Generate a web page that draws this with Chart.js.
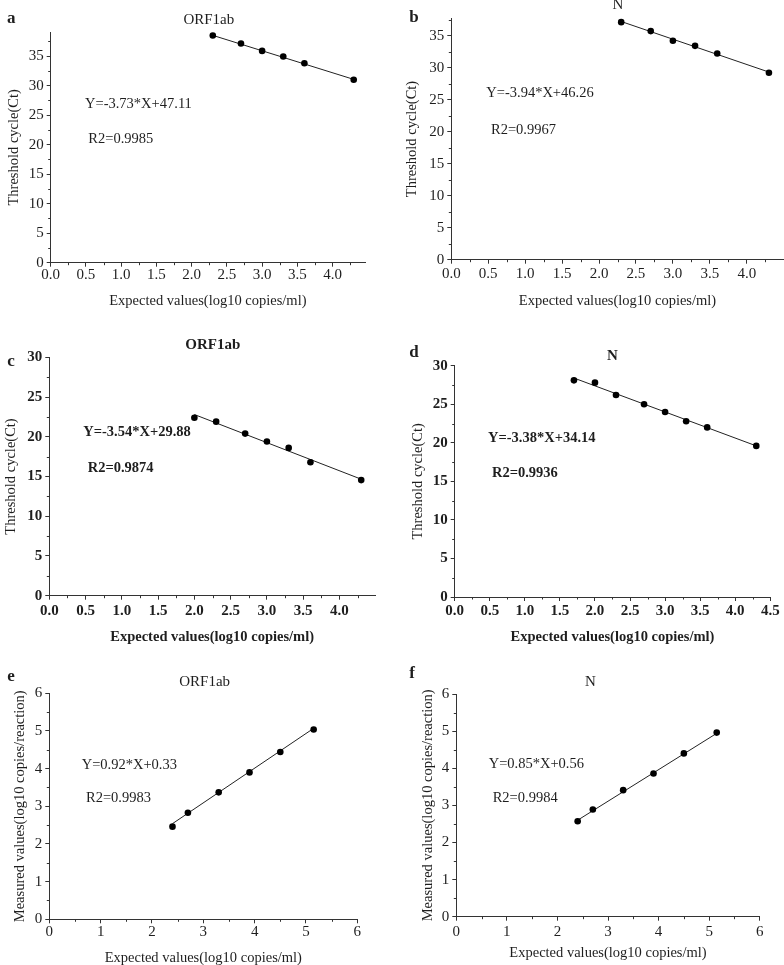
<!DOCTYPE html>
<html>
<head>
<meta charset="utf-8">
<script src="https://cdn.jsdelivr.net/npm/chart.js@4.4.0/dist/chart.umd.min.js"></script>
<style>
  html, body { margin: 0; padding: 0; background: #fff; overflow: hidden; }
  #wrap { position: relative; width: 784px; height: 965px; }
  canvas { position: absolute; }
</style>
</head>
<body>
<div id="wrap">
  <canvas id="panelA"></canvas>
  <canvas id="panelB"></canvas>
  <canvas id="panelC"></canvas>
  <canvas id="panelD"></canvas>
  <canvas id="panelE"></canvas>
  <canvas id="panelF"></canvas>
</div>
<script>
// tick labels
const xTickLabelsCt = ['0.0', '0.5', '1.0', '1.5', '2.0', '2.5', '3.0', '3.5', '4.0'];
const xTickLabelsCtWide = ['0.0', '0.5', '1.0', '1.5', '2.0', '2.5', '3.0', '3.5', '4.0', '4.5'];
const yTickLabelsCtHigh = ['0', '5', '10', '15', '20', '25', '30', '35'];
const yTickLabelsCtLow = ['0', '5', '10', '15', '20', '25', '30'];
const tickLabelsLog = ['0', '1', '2', '3', '4', '5', '6'];

// panel a - ORF1ab
const expectedA = [2.3, 2.7, 3.0, 3.3, 3.6, 4.3];
const ctA = [38.5, 37.15, 35.9, 34.95, 33.8, 31.0];
const fitA = [[2.3, 38.53], [4.3, 31.07]];

// panel b - N
const expectedB = [2.3, 2.7, 3.0, 3.3, 3.6, 4.3];
const ctB = [37.1, 35.7, 34.2, 33.4, 32.2, 29.2];
const fitB = [[2.3, 37.2], [4.3, 29.3]];

// panel c - ORF1ab
const expectedC = [2.0, 2.3, 2.7, 3.0, 3.3, 3.6, 4.3];
const ctC = [22.4, 21.9, 20.4, 19.4, 18.6, 16.8, 14.55];
const fitC = [[2.0, 22.8], [4.3, 14.66]];

// panel d - N
const expectedD = [1.7, 2.0, 2.3, 2.7, 3.0, 3.3, 3.6, 4.3];
const ctD = [28.1, 27.8, 26.2, 25.0, 24.0, 22.8, 22.0, 19.6];
const fitD = [[1.7, 28.4], [4.3, 19.6]];

// panel e - ORF1ab
const expectedE = [2.4, 2.7, 3.3, 3.9, 4.5, 5.15];
const measuredE = [2.46, 2.83, 3.37, 3.90, 4.44, 5.04];
const fitE = [[2.4, 2.54], [5.15, 5.07]];

// panel f - N
const expectedF = [2.4, 2.7, 3.3, 3.9, 4.5, 5.15];
const measuredF = [2.57, 2.89, 3.41, 3.86, 4.40, 4.96];
const fitF = [[2.4, 2.6], [5.15, 4.94]];

const FONT = "'Liberation Serif', 'Times New Roman', serif";
const TEXT_COLOR = '#1e1e1e';
const AXIS_COLOR = '#333333';
const TITLE_SIZE = 14.5;

const panels = [
  {
    id: 'panelA', box: [0, 0, 392, 315], plot: [50.7, 32, 365, 262.7],
    xMax: 4.46, yMax: 39.1, xLabels: xTickLabelsCt, yLabels: yTickLabelsCtHigh,
    xs: expectedA, ys: ctA, fit: fitA, bold: false, xTickPad: 1,
    yTitle: 'Threshold cycle(Ct)', yTitleX: 14, xTitleY: 301.5,
    letter: ['a', 7, 19], title: ['ORF1ab', 208.8, 20],
    eq: ['Y=-3.73*X+47.11', 85, 104.3], r2: ['R2=0.9985', 88.3, 139.3]
  },
  {
    id: 'panelB', box: [392, 0, 392, 315], plot: [451.3, 18.3, 783.7, 259.7],
    xMax: 4.5, yMax: 37.7, xLabels: xTickLabelsCt, yLabels: yTickLabelsCtHigh,
    xs: expectedB, ys: ctB, fit: fitB, bold: false, xTickPad: 3,
    yTitle: 'Threshold cycle(Ct)', yTitleX: 412, xTitleY: 301.5,
    letter: ['b', 409.3, 18], title: ['N', 617.8, 5],
    eq: ['Y=-3.94*X+46.26', 486.3, 93.3], r2: ['R2=0.9967', 491, 130]
  },
  {
    id: 'panelC', box: [0, 315, 392, 335], plot: [49.3, 357.3, 375, 595.7],
    xMax: 4.49, yMax: 30, xLabels: xTickLabelsCt, yLabels: yTickLabelsCtLow,
    xs: expectedC, ys: ctC, fit: fitC, bold: true, xTickPad: 3.5,
    yTitle: 'Threshold cycle(Ct)', yTitleX: 10.8, xTitleY: 637,
    letter: ['c', 7.3, 361.7], title: ['ORF1ab', 212.8, 345],
    eq: ['Y=-3.54*X+29.88', 83.3, 432.3], r2: ['R2=0.9874', 87.7, 468.3]
  },
  {
    id: 'panelD', box: [392, 315, 392, 335], plot: [454.7, 365.7, 770.3, 597],
    xMax: 4.5, yMax: 30, xLabels: xTickLabelsCtWide, yLabels: yTickLabelsCtLow,
    xs: expectedD, ys: ctD, fit: fitD, bold: true, xTickPad: 3,
    yTitle: 'Threshold cycle(Ct)', yTitleX: 417.8, xTitleY: 637,
    letter: ['d', 409.3, 352.3], title: ['N', 612.5, 356],
    eq: ['Y=-3.38*X+34.14', 488, 438.3], r2: ['R2=0.9936', 492, 473.3]
  },
  {
    id: 'panelE', box: [0, 650, 392, 325], plot: [49.3, 693.3, 357.3, 919.3],
    xMax: 6, yMax: 6, xLabels: tickLabelsLog, yLabels: tickLabelsLog,
    xs: expectedE, ys: measuredE, fit: fitE, bold: false, xTickPad: 1.5,
    yTitle: 'Measured values(log10 copies/reaction)', yTitleX: 20, xTitleY: 958.3,
    letter: ['e', 7.3, 676.7], title: ['ORF1ab', 204.7, 681.7],
    eq: ['Y=0.92*X+0.33', 81.7, 765], r2: ['R2=0.9983', 86, 798.3]
  },
  {
    id: 'panelF', box: [392, 650, 392, 325], plot: [456.3, 694, 759.7, 916.7],
    xMax: 6, yMax: 6, xLabels: tickLabelsLog, yLabels: tickLabelsLog,
    xs: expectedF, ys: measuredF, fit: fitF, bold: false, xTickPad: 3.5,
    yTitle: 'Measured values(log10 copies/reaction)', yTitleX: 427.8, xTitleY: 953.3,
    letter: ['f', 409.3, 673.3], title: ['N', 590.3, 681.7],
    eq: ['Y=0.85*X+0.56', 488.7, 764.3], r2: ['R2=0.9984', 492.7, 797.7]
  }
];

function font(size, bold) {
  return { family: FONT, size: size, weight: bold ? 'bold' : 'normal', lineHeight: 1 };
}

// short minor ticks halfway between the major ones, plus the panel texts
function makeDecor(p) {
  return {
    id: 'decor_' + p.id,
    afterDraw(chart) {
      const ctx = chart.ctx;
      const xs = chart.scales.x;
      const ys = chart.scales.y;
      const area = chart.chartArea;
      ctx.save();
      ctx.strokeStyle = AXIS_COLOR;
      ctx.lineWidth = 1;
      ctx.beginPath();
      const xv = p.xLabels.map(parseFloat);
      const xStep = xv[1] - xv[0];
      for (let v = xv[0] + xStep / 2; v < p.xMax; v += xStep) {
        const px = Math.round(xs.getPixelForValue(v)) + 0.5;
        ctx.moveTo(px, area.bottom);
        ctx.lineTo(px, area.bottom + 2.5);
      }
      const yv = p.yLabels.map(parseFloat);
      const yStep = yv[1] - yv[0];
      for (let v = yv[0] + yStep / 2; v < p.yMax; v += yStep) {
        const py = Math.round(ys.getPixelForValue(v)) + 0.5;
        ctx.moveTo(area.left, py);
        ctx.lineTo(area.left - 2.5, py);
      }
      ctx.stroke();

      const ox = p.box[0];
      const oy = p.box[1];
      ctx.fillStyle = TEXT_COLOR;
      ctx.textBaseline = 'middle';

      ctx.textAlign = 'left';
      ctx.font = 'bold 17px ' + FONT;
      ctx.fillText(p.letter[0], p.letter[1] - ox, p.letter[2] - oy);

      ctx.textAlign = 'center';
      ctx.font = (p.bold ? 'bold ' : '') + '15px ' + FONT;
      ctx.fillText(p.title[0], p.title[1] - ox, p.title[2] - oy);

      ctx.textAlign = 'left';
      ctx.font = (p.bold ? 'bold ' : '') + '14.5px ' + FONT;
      ctx.fillText(p.eq[0], p.eq[1] - ox, p.eq[2] - oy);
      ctx.fillText(p.r2[0], p.r2[1] - ox, p.r2[2] - oy);
      ctx.restore();
    }
  };
}

function buildPanel(p) {
  const canvas = document.getElementById(p.id);
  const [cx, cy, cw, ch] = p.box;
  const [L, T, R, B] = p.plot;
  canvas.width = cw;
  canvas.height = ch;
  canvas.style.left = cx + 'px';
  canvas.style.top = cy + 'px';

  const padLeft = p.yTitleX - TITLE_SIZE / 2 - cx;
  const yAxisW = L - cx - padLeft;
  const xAxisH = p.xTitleY - B + TITLE_SIZE / 2;
  const padBottom = cy + ch - B - xAxisH;

  const points = p.xs.map((x, i) => ({ x: x, y: p.ys[i] }));
  const fitLine = p.fit.map(([x, y]) => ({ x: x, y: y }));

  new Chart(canvas, {
    type: 'scatter',
    data: {
      datasets: [
        {
          data: points,
          backgroundColor: '#000',
          borderColor: '#000',
          pointRadius: 3.3,
          pointHoverRadius: 3.3,
          borderWidth: 0,
          order: 0,
          clip: false
        },
        {
          data: fitLine,
          showLine: true,
          borderColor: '#222',
          borderWidth: 1,
          pointRadius: 0,
          order: 1,
          clip: false
        }
      ]
    },
    options: {
      responsive: false,
      animation: false,
      events: [],
      layout: {
        autoPadding: false,
        padding: { left: padLeft, top: T - cy, right: cx + cw - R, bottom: padBottom }
      },
      plugins: {
        legend: { display: false },
        tooltip: { enabled: false },
        title: { display: false }
      },
      scales: {
        x: {
          type: 'linear',
          min: 0,
          max: p.xMax,
          bounds: 'data',
          afterBuildTicks: s => { s.ticks = p.xLabels.map(t => ({ value: parseFloat(t) })); },
          afterFit: s => { s.height = xAxisH; },
          ticks: {
            autoSkip: false,
            maxRotation: 0,
            padding: p.xTickPad,
            color: TEXT_COLOR,
            font: font(15, p.bold),
            callback: (v, i) => p.xLabels[i]
          },
          grid: { drawOnChartArea: false, drawTicks: true, tickLength: 4, tickColor: AXIS_COLOR },
          border: { display: true, color: AXIS_COLOR, width: 1 },
          title: {
            display: true,
            text: 'Expected values(log10 copies/ml)',
            color: TEXT_COLOR,
            padding: 0,
            font: font(TITLE_SIZE, p.bold)
          }
        },
        y: {
          type: 'linear',
          min: 0,
          max: p.yMax,
          bounds: 'data',
          afterBuildTicks: s => { s.ticks = p.yLabels.map(t => ({ value: parseFloat(t) })); },
          afterFit: s => { s.width = yAxisW; },
          ticks: {
            autoSkip: false,
            padding: 3,
            color: TEXT_COLOR,
            font: font(15, p.bold),
            callback: (v, i) => p.yLabels[i]
          },
          grid: { drawOnChartArea: false, drawTicks: true, tickLength: 4, tickColor: AXIS_COLOR },
          border: { display: true, color: AXIS_COLOR, width: 1 },
          title: {
            display: true,
            text: p.yTitle,
            color: TEXT_COLOR,
            padding: 0,
            font: font(TITLE_SIZE, false)
          }
        }
      }
    },
    plugins: [makeDecor(p)]
  });
}

panels.forEach(buildPanel);
</script>
</body>
</html>
